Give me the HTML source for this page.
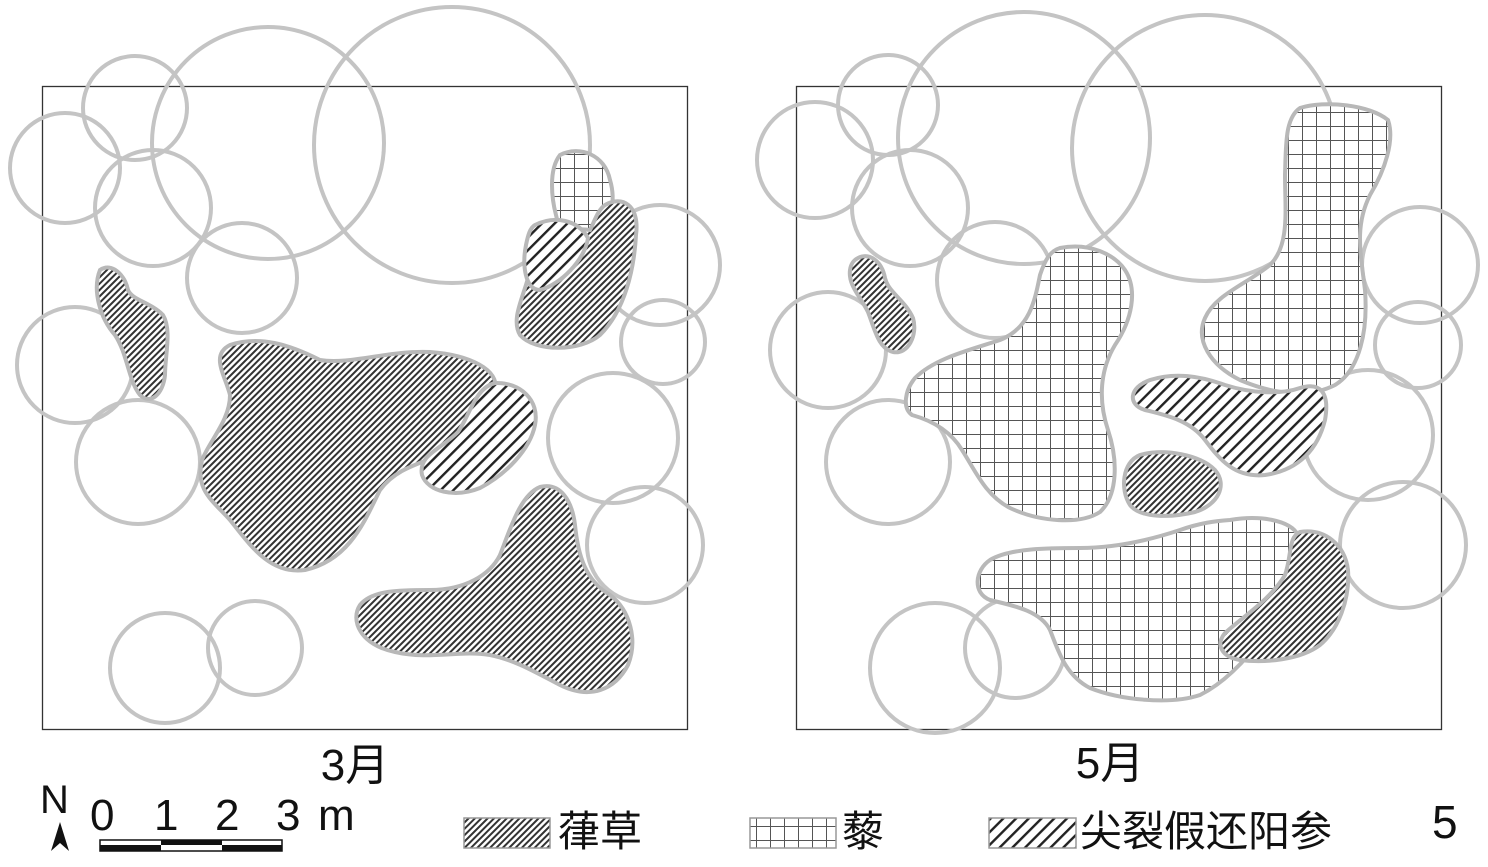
<!DOCTYPE html>
<html><head><meta charset="utf-8"><style>
html,body{margin:0;padding:0;background:#fff;}
svg{display:block;}
text{font-family:"Liberation Sans","Noto Sans CJK SC",sans-serif;fill:#111;}
</style></head><body>
<svg width="1488" height="867" viewBox="0 0 1488 867" xmlns="http://www.w3.org/2000/svg">
<defs>
<pattern id="dense" patternUnits="userSpaceOnUse" width="4.5" height="4.5" patternTransform="rotate(45)">
<rect width="4.5" height="4.5" fill="#fff"/><rect width="2" height="4.5" fill="#333"/></pattern>
<pattern id="sparse" patternUnits="userSpaceOnUse" width="9" height="9" patternTransform="rotate(45)">
<rect width="9" height="9" fill="#fff"/><rect width="2.4" height="9" fill="#222"/></pattern>
<pattern id="grid" patternUnits="userSpaceOnUse" width="14" height="14">
<rect width="14" height="14" fill="#fff"/><path d="M0 0.5H14M0.5 0V14" stroke="#555" stroke-width="1"/></pattern>
</defs>

<!-- frames -->
<rect x="42.5" y="86.5" width="645" height="643" fill="#fff" stroke="#333" stroke-width="1.3"/>
<rect x="796.5" y="86.5" width="645" height="643" fill="#fff" stroke="#333" stroke-width="1.3"/>

<g stroke="#c4c4c4" stroke-width="4" fill="none">
<!-- left circles -->
<circle cx="65" cy="168" r="55"/><circle cx="135" cy="108" r="52"/><circle cx="153" cy="208" r="58"/>
<circle cx="268" cy="143" r="116"/><circle cx="452" cy="145" r="138"/><circle cx="242" cy="278" r="55"/>
<circle cx="75" cy="365" r="58"/><circle cx="138" cy="462" r="62"/><circle cx="660" cy="265" r="60"/>
<circle cx="663" cy="342" r="42"/><circle cx="613" cy="438" r="65"/><circle cx="645" cy="545" r="58"/>
<circle cx="165" cy="668" r="55"/><circle cx="255" cy="648" r="47"/>
<!-- right circles -->
<circle cx="815" cy="160" r="58"/><circle cx="888" cy="105" r="50"/><circle cx="910" cy="208" r="58"/>
<circle cx="1024" cy="138" r="126"/><circle cx="1205" cy="148" r="133"/><circle cx="995" cy="280" r="58"/>
<circle cx="828" cy="350" r="58"/><circle cx="888" cy="462" r="62"/><circle cx="1420" cy="265" r="58"/>
<circle cx="1418" cy="345" r="43"/><circle cx="1368" cy="435" r="65"/><circle cx="1403" cy="545" r="63"/>
<circle cx="935" cy="668" r="65"/><circle cx="1015" cy="648" r="50"/>
</g>

<g stroke="#b8b8b8" stroke-width="4">
<!-- left panel blobs -->
<path fill="url(#grid)" d="M560,155 C580,145 605,155 610,180 C616,200 612,225 595,240 C578,250 560,235 556,215 C552,200 548,170 560,155Z"/>
<path fill="url(#dense)" d="M605,205 C622,195 640,205 636,235 C634,270 625,310 600,335 C580,352 535,352 520,335 C510,318 525,295 530,270 C535,245 560,225 590,230 C595,220 598,210 605,205Z"/>
<path fill="url(#sparse)" d="M535,225 C555,215 578,220 588,238 C585,260 560,285 540,290 C525,290 522,265 526,245 C528,235 530,228 535,225Z"/>
<path fill="url(#dense)" d="M100,270 C112,262 125,275 128,290 C132,300 150,302 163,315 C172,330 165,355 165,375 C163,395 150,405 140,395 C128,380 128,355 115,335 C100,318 92,290 100,270Z"/>
<path fill="url(#dense)" d="M230,345 C260,335 290,345 320,360 C350,365 390,350 430,352 C470,355 500,370 495,390 C490,420 470,440 440,455 C415,465 395,470 380,490 C365,520 350,560 305,570 C270,575 250,545 230,520 C212,500 195,490 202,460 C210,440 230,420 230,395 C225,375 210,355 230,345Z"/>
<path fill="url(#sparse)" d="M495,383 C520,382 540,400 535,425 C530,450 505,475 480,488 C455,498 428,492 422,475 C418,455 440,450 458,432 C470,415 475,388 495,383Z"/>
<path fill="url(#dense)" d="M540,487 C560,482 572,500 575,525 C578,555 585,580 610,595 C630,610 638,640 628,665 C615,690 590,700 560,685 C535,672 515,660 490,655 C460,650 430,660 395,652 C360,645 350,620 360,605 C372,590 400,590 430,590 C465,590 490,575 500,555 C510,530 520,495 540,487Z"/>

<!-- right panel blobs -->
<path fill="url(#dense)" d="M858,258 C870,252 882,262 885,278 C888,292 905,300 913,318 C918,335 908,355 893,352 C878,348 875,330 868,312 C860,296 848,285 850,270 C851,263 854,260 858,258Z"/>
<path fill="url(#grid)" d="M1060,248 C1090,242 1115,255 1125,270 C1138,290 1132,320 1115,345 C1100,370 1098,400 1108,430 C1118,460 1118,495 1100,512 C1080,525 1040,522 1010,508 C985,495 975,470 962,450 C950,430 930,420 912,415 C902,408 905,390 915,378 C935,358 970,350 1000,340 C1030,328 1035,300 1040,275 C1045,260 1050,251 1060,248Z"/>
<path fill="url(#grid)" d="M1300,108 C1325,100 1370,105 1388,120 C1395,140 1385,170 1370,195 C1355,225 1360,250 1365,290 C1368,330 1360,370 1335,385 C1310,398 1275,395 1240,380 C1210,365 1195,340 1205,318 C1215,295 1245,285 1270,265 C1290,245 1285,210 1285,175 C1286,145 1285,118 1300,108Z"/>
<path fill="url(#sparse)" d="M1150,380 C1175,372 1200,376 1225,385 C1250,393 1280,395 1300,388 C1320,382 1330,392 1325,420 C1318,448 1300,470 1265,475 C1235,478 1220,460 1205,440 C1190,420 1165,415 1145,410 C1128,405 1128,388 1150,380Z"/>
<path fill="url(#dense)" d="M1140,455 C1165,448 1200,455 1215,470 C1228,485 1218,505 1195,512 C1170,518 1140,518 1130,505 C1120,490 1122,462 1140,455Z"/>
<path fill="url(#grid)" d="M1230,520 C1260,515 1290,520 1298,535 C1305,555 1295,590 1275,620 C1255,650 1230,680 1200,695 C1170,705 1120,700 1090,688 C1065,675 1058,650 1050,630 C1040,610 1010,605 990,600 C972,593 975,570 990,560 C1010,548 1050,548 1080,548 C1115,548 1150,540 1180,530 C1200,523 1215,521 1230,520Z"/>
<path fill="url(#dense)" d="M1300,532 C1325,528 1345,545 1348,570 C1350,600 1338,630 1320,645 C1300,660 1265,663 1240,660 C1222,657 1215,645 1225,633 C1245,615 1270,600 1285,575 C1292,555 1288,537 1300,532Z"/>
</g>

<!-- titles -->
<text x="355" y="780" font-size="44" text-anchor="middle">3月</text>
<text x="1110" y="778" font-size="44" text-anchor="middle">5月</text>

<!-- north arrow -->
<text x="40" y="813" font-size="40">N</text>
<path d="M60,822 L51,851 L60,843 L69,851 Z" fill="#111"/>

<!-- scale -->
<text x="90" y="830" font-size="44">0</text>
<text x="154" y="830" font-size="44">1</text>
<text x="215" y="830" font-size="44">2</text>
<text x="276" y="830" font-size="44">3</text>
<text x="318" y="830" font-size="44">m</text>
<rect x="100" y="840" width="182" height="11" fill="#fff" stroke="#111" stroke-width="1.5"/>
<rect x="100" y="845" width="61" height="6" fill="#111"/>
<rect x="161" y="840" width="61" height="5" fill="#111"/>
<rect x="222" y="845" width="60" height="6" fill="#111"/>

<!-- legend -->
<rect x="464" y="818" width="86" height="30" fill="url(#dense)" stroke="#999" stroke-width="1.5"/>
<text x="558" y="846" font-size="42">葎草</text>
<rect x="750" y="818" width="86" height="30" fill="url(#grid)" stroke="#999" stroke-width="1.5"/>
<text x="842" y="846" font-size="42">藜</text>
<rect x="989" y="818" width="87" height="30" fill="url(#sparse)" stroke="#999" stroke-width="1.5"/>
<text x="1080" y="846" font-size="42">尖裂假还阳参</text>
<text x="1432" y="838" font-size="46">5</text>
</svg>
</body></html>
